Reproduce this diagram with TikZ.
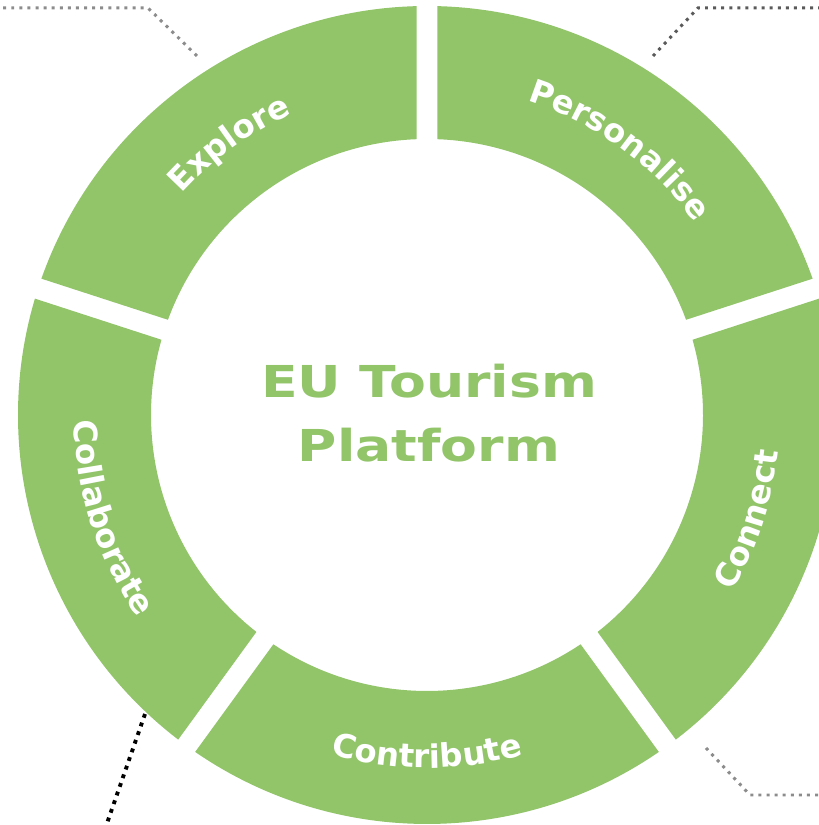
\documentclass[tikz,border=0pt]{standalone}
\usepackage{fontspec}
\setmainfont{DejaVu Sans}
\usetikzlibrary{decorations.text}
\definecolor{ringgreen}{RGB}{146,196,106}
\definecolor{leadgray}{RGB}{140,140,140}
\definecolor{leaddark}{RGB}{90,90,90}
\newcommand{\labelfont}{\bfseries\fontsize{9.2}{10}\selectfont}
\tikzset{
  seg/.style={fill=ringgreen},
  seglabel/.style={decorate,decoration={text along path,text align=center,
    text color=white,text={|\labelfont|#1}}},
  leader/.style={line width=0.85pt,dash pattern=on 0.85pt off 1.45pt},
  title/.style={text=ringgreen,font=\bfseries\fontsize{12.5}{18}\selectfont,
    align=center,xscale=1.22,transform shape}
}
\begin{document}
\begin{tikzpicture}[x=0.01cm,y=0.01cm]
\clip (-427,-410) rectangle (392,415);
% ring segments
\fill[seg] (91.47:409) arc[start angle=91.47,end angle=160.53,radius=409] -- (159.82:276) arc[start angle=159.82,end angle=92.18,radius=276] -- cycle;
\fill[seg] (163.47:409) arc[start angle=163.47,end angle=232.53,radius=409] -- (231.82:276) arc[start angle=231.82,end angle=164.18,radius=276] -- cycle;
\fill[seg] (235.47:409) arc[start angle=235.47,end angle=304.53,radius=409] -- (303.82:276) arc[start angle=303.82,end angle=236.18,radius=276] -- cycle;
\fill[seg] (-52.53:409) arc[start angle=-52.53,end angle=16.53,radius=409] -- (15.82:276) arc[start angle=15.82,end angle=-51.82,radius=276] -- cycle;
\fill[seg] (19.47:409) arc[start angle=19.47,end angle=88.53,radius=409] -- (87.82:276) arc[start angle=87.82,end angle=20.18,radius=276] -- cycle;
% labels
\path[seglabel=Explore] (162:330) arc[start angle=162,end angle=90,radius=330];
\path[seglabel=Personalise] (90:330) arc[start angle=90,end angle=18,radius=330];
\path[seglabel=Connect] (-54:353) arc[start angle=-54,end angle=18,radius=353];
\path[seglabel=Contribute] (234:353) arc[start angle=234,end angle=306,radius=353];
\path[seglabel=Collaborate] (162:353) arc[start angle=162,end angle=234,radius=353];
\node[title] (title) at (2,2) {EU Tourism\\Platform};
% leader lines
\coordinate (tl0) at (-440,407);
\coordinate (tl1) at (-279,407);
\coordinate (tl2) at (-230,359);
\coordinate (tr0) at (226,359);
\coordinate (tr1) at (271,407);
\coordinate (tr2) at (400,407);
\coordinate (br0) at (279,-333);
\coordinate (br1) at (323,-380);
\coordinate (br2) at (400,-380);
\coordinate (bl0) at (-282,-299);
\coordinate (bl1) at (-322,-414);
\draw[leader,leadgray] (tl0) -- (tl1) -- (tl2);
\draw[leader,leaddark] (tr0) -- (tr1) -- (tr2);
\draw[leader,leadgray] (br0) -- (br1) -- (br2);
\draw[leader,black,line width=1.1pt,dash pattern=on 1.1pt off 1.5pt] (bl0) -- (bl1);
\end{tikzpicture}
\end{document}
